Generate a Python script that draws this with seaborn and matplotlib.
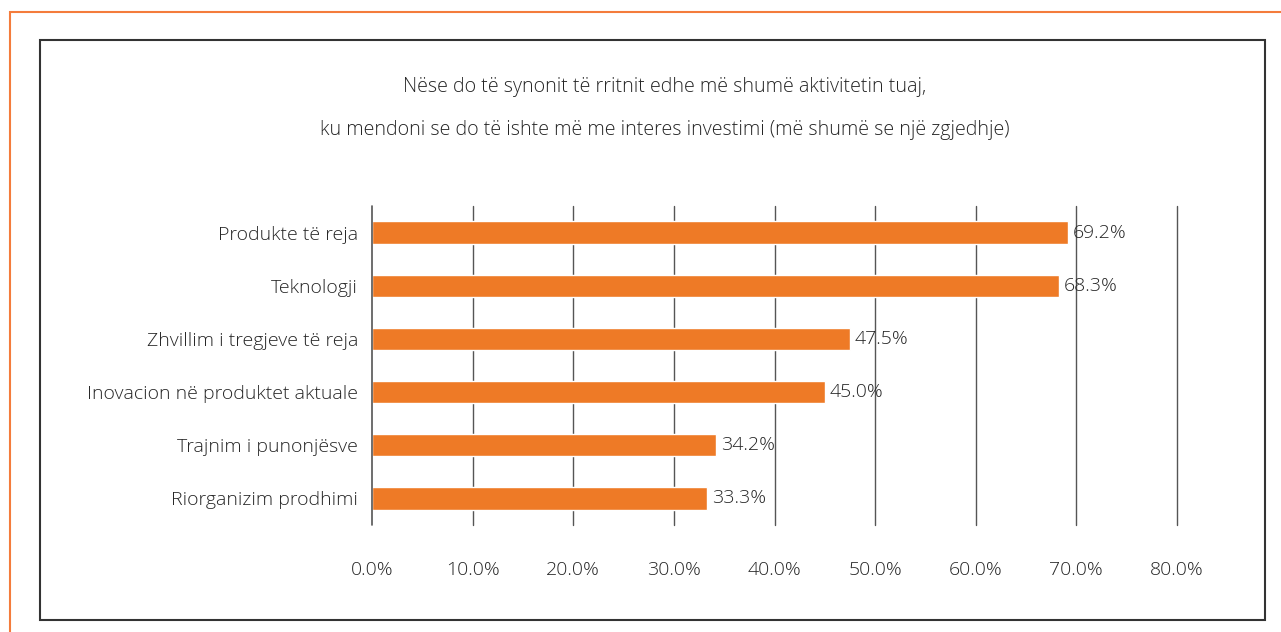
import matplotlib
matplotlib.use("Agg")
import matplotlib.pyplot as plt
import seaborn as sns
import pandas as pd
from matplotlib.patches import Rectangle

categories = ["Produkte të reja", "Teknologji", "Zhvillim i tregjeve të reja",
              "Inovacion në produktet aktuale", "Trajnim i punonjësve", "Riorganizim prodhimi"]
values = [69.2, 68.3, 47.5, 45.0, 34.2, 33.3]
xticks = [0, 10, 20, 30, 40, 50, 60, 70, 80]
title_lines = ["Nëse do të synonit të rritnit edhe më shumë aktivitetin tuaj,",
               "ku mendoni se do të ishte më me interes investimi (më shumë se një zgjedhje)"]

sns.set_theme(style="white")
plt.rcParams['font.family'] = ['Open Sans', 'DejaVu Sans']
plt.rcParams['font.weight'] = 'light'

W, H = 1281, 632
TXT = "#262626"
FS = 14
fig = plt.figure(figsize=(W / 100, H / 100), dpi=100)
ax = fig.add_axes([372 / W, 1 - 525 / H, (1177 - 372) / W, (525 - 206) / H])

df = pd.DataFrame({"cat": categories, "val": values})
sns.barplot(data=df, x="val", y="cat", orient="h", color="#EE7A26", saturation=1,
            width=0.42, ax=ax, zorder=3)

ax.set_xlim(0, 80)
ax.set_ylim(5.5, -0.5)
ax.set_xticks(xticks)
ax.set_xticklabels([f"{t:.1f}%" for t in xticks])
ax.set_xlabel("")
ax.set_ylabel("")
for s in ax.spines.values():
    s.set_visible(False)
for t in xticks:
    ax.axvline(t, color="#555555", lw=1.2 if t == 0 else 1.0, zorder=1 if t else 4,
               clip_on=False)
ax.tick_params(axis="x", length=0, pad=26, labelsize=FS, labelcolor=TXT)
ax.tick_params(axis="y", length=0, pad=10, labelsize=FS, labelcolor=TXT)
ax.grid(False)

for i, v in enumerate(values):
    ax.text(v + 0.45, i, f"{v:.1f}%", va="center", ha="left", fontsize=FS,
            color=TXT, zorder=5)

fig.text(665 / W, 1 - 87 / H, title_lines[0], ha="center", va="center",
         fontsize=14.15, color=TXT)
fig.text(665 / W, 1 - 130 / H, title_lines[1], ha="center", va="center",
         fontsize=14.15, color=TXT)

fig.patches.append(Rectangle((9.5 / W, -0.1), 1.2, 1 - 12 / H + 0.1, transform=fig.transFigure,
                             fill=False, edgecolor="#F47C3C", lw=1.5, figure=fig))
fig.patches.append(Rectangle((39.5 / W, 1 - 620 / H), (1265 - 39.5) / W, (620 - 40) / H,
                             transform=fig.transFigure, fill=False, edgecolor="#333333",
                             lw=1.5, figure=fig))

fig.savefig("out.png", dpi=100)
